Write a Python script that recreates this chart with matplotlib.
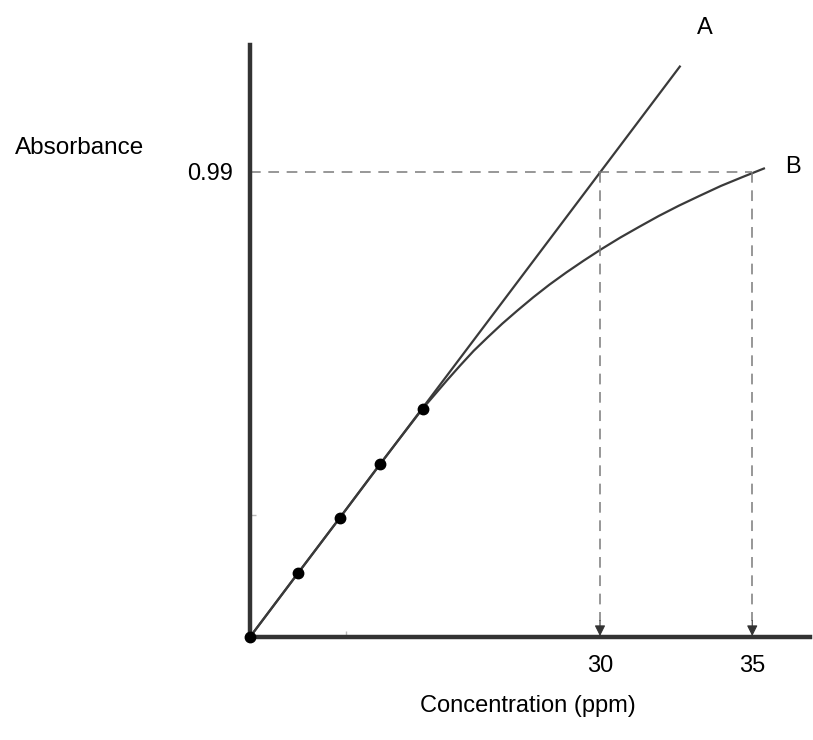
import matplotlib.pyplot as plt

plt.rcParams["font.family"] = ["Liberation Sans", "DejaVu Sans"]

# calibration points
point_x = [0, 4.11, 7.71, 11.14, 14.8]
point_y = [0, 0.136, 0.254, 0.368, 0.486]

# line A - ideal Beer-Lambert line
line_a_x = [0, 36.9]
line_a_y = [0, 1.216]

# curve B - real response bending away at high concentration
curve_b_x = [0, 4.11, 7.71, 11.14, 14.8, 15.84, 16.91, 18.02, 19.17, 20.38, 21.63,
             22.93, 24.28, 25.67, 27.12, 28.60, 30.15, 31.73, 33.36, 35.03, 36.76,
             38.54, 40.36, 42.22, 44.14]
curve_b_y = [0, 0.136, 0.254, 0.368, 0.486, 0.516, 0.547, 0.578, 0.609, 0.638, 0.667,
             0.695, 0.723, 0.750, 0.776, 0.801, 0.826, 0.850, 0.873, 0.896, 0.918,
             0.939, 0.960, 0.979, 0.998]

# where each line reaches 0.99
level = 0.99
cross_x = [30.0, 43.05]
cross_labels = ["30", "35"]

axis_col = "#333333"
line_col = "#3a3a3a"
dash_col = "#7a7a7a"

fig = plt.figure(figsize=(8.13, 7.40), dpi=100)
ax = fig.add_axes([0.3075, 0.1392, 0.6888, 0.80])

ax.plot(line_a_x, line_a_y, color=line_col, lw=1.6, solid_capstyle="butt")
ax.plot(curve_b_x, curve_b_y, color=line_col, lw=1.6, solid_capstyle="butt",
        solid_joinstyle="round")

# dashed guide lines
ax.plot([0, cross_x[1]], [level, level], color=dash_col, lw=1.1, dashes=(7, 5))
for cx in cross_x:
    ax.plot([cx, cx], [level, 0.035], color=dash_col, lw=1.1, dashes=(7, 5))
    ax.annotate("", xy=(cx, 0.002), xytext=(cx, 0.035),
                arrowprops=dict(arrowstyle="-|>", color="#333333", lw=0.8,
                                mutation_scale=16, shrinkA=0, shrinkB=0))

ax.plot(point_x, point_y, "o", color="black", ms=7.5, clip_on=False, zorder=5)

ax.text(39.0, 1.297, "A", fontsize=17, ha="center", va="center", clip_on=False)
ax.text(46.5, 1.0, "B", fontsize=17, ha="center", va="center", clip_on=False)

ax.set_xlim(0, 48)
ax.set_ylim(0, 1.26)

for side in ["top", "right"]:
    ax.spines[side].set_visible(False)
for side in ["left", "bottom"]:
    ax.spines[side].set_linewidth(3.2)
    ax.spines[side].set_color(axis_col)

ax.set_xticks(cross_x)
ax.set_xticklabels(cross_labels, fontsize=17)
ax.set_yticks([level])
ax.set_yticklabels(["0.99"], fontsize=17)
ax.tick_params(axis="x", length=0, pad=13)
ax.tick_params(axis="y", length=0, pad=12)

# faint minor ticks
ax.set_xticks([8.23], minor=True)
ax.set_yticks([0.26], minor=True)
ax.tick_params(which="minor", direction="in", length=4, width=1, color="#bbbbbb")

fig.text(80 / 813, 1 - 148 / 740, "Absorbance", fontsize=17.5, ha="center", va="center")
fig.text(528 / 813, 1 - 706 / 740, "Concentration (ppm)", fontsize=17, ha="center", va="center")

fig.savefig("out.png", dpi=100)
